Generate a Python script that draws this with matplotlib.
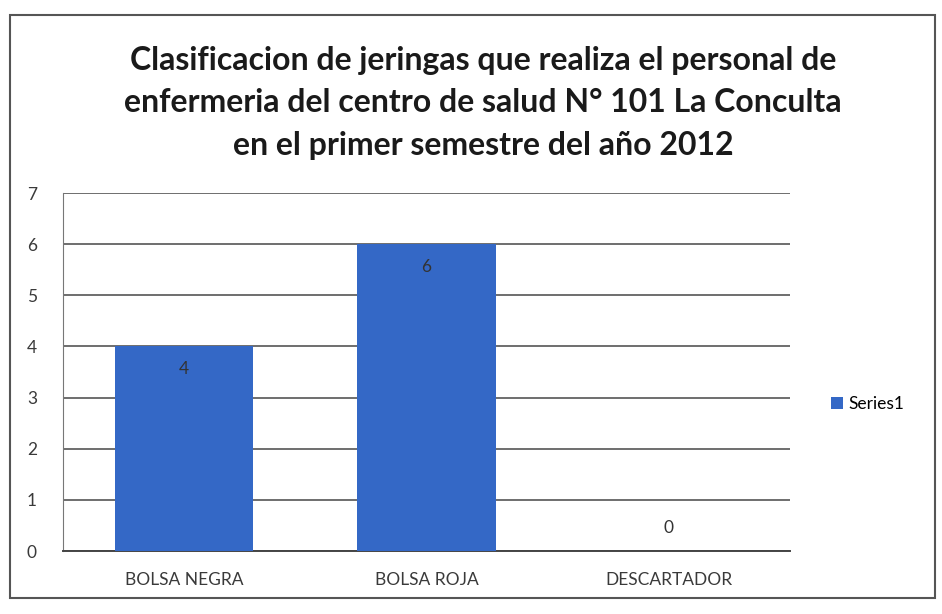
import matplotlib.pyplot as plt
from matplotlib.patches import Rectangle

categories = ["BOLSA NEGRA", "BOLSA ROJA", "DESCARTADOR"]
values = [4, 6, 0]
series_name = "Series1"
title = ("Clasificacion de jeringas que realiza el personal de\n"
         "enfermeria del centro de salud N° 101 La Conculta\n"
         "en el primer semestre del año 2012")

plt.rcParams["font.family"] = ["Lato", "DejaVu Sans"]

fig = plt.figure(figsize=(9.42, 6.14), dpi=100)
ax = fig.add_axes([63 / 942, 1 - 551 / 614, (790 - 63) / 942, (551 - 193) / 614])

x = range(len(categories))
bars = ax.bar(x, values, width=0.57, color="#3468c6", label=series_name, zorder=3)

# value labels: inside the top of each bar, above the axis for zero
for b, v in zip(bars, values):
    y = v - 0.45 if v > 0 else 0.45
    ax.text(b.get_x() + b.get_width() / 2, y, str(v),
            ha="center", va="center", fontsize=12.5, color="#333333", zorder=4)

ax.set_xlim(-0.5, 2.5)
ax.set_ylim(0, 7)
ax.set_yticks(range(8))
ax.set_xticks(list(x))
ax.set_xticklabels(categories)
ax.tick_params(axis="both", labelsize=12.5, colors="#3a3a3a", length=0)
ax.tick_params(axis="x", pad=15)
ax.tick_params(axis="y", pad=26)
for t in ax.get_yticklabels():
    t.set_horizontalalignment("left")
ax.yaxis.grid(True, color="#555555", linewidth=1.2, zorder=0)
for s in ["top", "right"]:
    ax.spines[s].set_visible(False)
ax.spines["left"].set_color("#777777")
ax.spines["bottom"].set_color("#444444")
ax.spines["bottom"].set_linewidth(1.4)

fig.text(483 / 942, 1 - 103 / 614, title, ha="center", va="center",
         fontsize=23, fontweight="bold", linespacing=1.55, color="#1a1a1a")

ax.legend(loc="center left", bbox_to_anchor=(1.035, 0.41), frameon=False,
          fontsize=12.5, handlelength=0.7, handleheight=0.7, handletextpad=0.3)

fig.patches.append(Rectangle((10 / 942, 1 - 598 / 614), 925 / 942, 583 / 614,
                             transform=fig.transFigure, fill=False,
                             edgecolor="#555555", linewidth=1.5))

fig.savefig("out.png", dpi=100)
